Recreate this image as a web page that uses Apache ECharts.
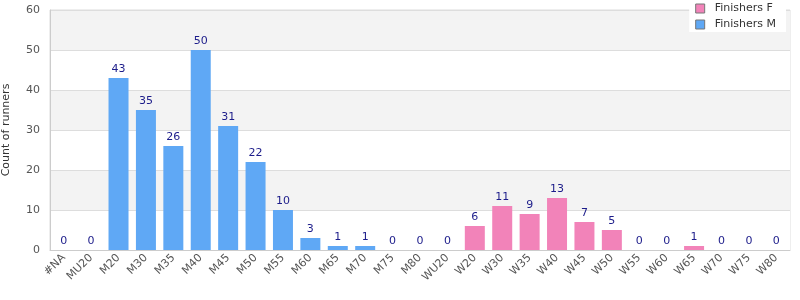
<!DOCTYPE html>
<html>
<head>
<meta charset="utf-8">
<script src="https://cdn.jsdelivr.net/npm/echarts@6/dist/echarts.min.js"></script>
<style>
  html, body { margin: 0; padding: 0; background: #fff; }
</style>
</head>
<body>
<div id="main" style="width: 800px; height: 300px;"></div>
<script>
  // age groups on the x axis
  const categories = ['#NA', 'MU20', 'M20', 'M30', 'M35', 'M40', 'M45', 'M50', 'M55', 'M60', 'M65', 'M70', 'M75', 'M80',
    'WU20', 'W20', 'W30', 'W35', 'W40', 'W45', 'W50', 'W55', 'W60', 'W65', 'W70', 'W75', 'W80'];
  // finishers per group, null where the group belongs to the other series
  const finishersM = [0, 0, 43, 35, 26, 50, 31, 22, 10, 3, 1, 1, 0, 0,
    null, null, null, null, null, null, null, null, null, null, null, null, null];
  const finishersF = [null, null, null, null, null, null, null, null, null, null, null, null, null, null,
    0, 6, 11, 9, 13, 7, 5, 0, 0, 1, 0, 0, 0];

  const font = 'DejaVu Sans, Verdana, sans-serif';
  let myChart = echarts.init(document.getElementById('main'));

  const valueLabel = {
    show: true,
    position: 'top',
    color: '#1c1c8a',
    fontFamily: font,
    fontSize: 11,
    distance: 3
  };

  myChart.setOption({
    animation: false,
    textStyle: { fontFamily: font },
    grid: {
      left: 50, right: 10, top: 10, bottom: 50,
      outerBoundsMode: 'none',
      containLabel: false,
      show: true,
      borderColor: '#dddddd',
      borderWidth: 1
    },
    legend: {
      data: ['Finishers F', 'Finishers M'],
      orient: 'vertical',
      right: 14,
      top: 1,
      backgroundColor: '#fff',
      padding: [2, 10, 2, 6],
      itemGap: 5,
      itemWidth: 9,
      itemHeight: 9,
      icon: 'rect',
      itemStyle: { borderColor: '#777', borderWidth: 1 },
      textStyle: { fontFamily: font, fontSize: 11, color: '#333', padding: [0, 0, 0, 5] }
    },
    xAxis: {
      type: 'category',
      data: categories,
      axisLine: { lineStyle: { color: '#cccccc' } },
      axisTick: { show: false },
      axisLabel: {
        interval: 0,
        rotate: 45,
        color: '#555',
        fontFamily: font,
        fontSize: 11,
        margin: 6
      }
    },
    yAxis: {
      type: 'value',
      min: 0,
      max: 60,
      interval: 10,
      name: 'Count of runners',
      nameLocation: 'middle',
      nameGap: 38,
      nameTextStyle: { color: '#333', fontFamily: font, fontSize: 11 },
      axisLine: { show: true, lineStyle: { color: '#cccccc' } },
      axisTick: { show: false },
      axisLabel: { color: '#555', fontFamily: font, fontSize: 11, margin: 10 },
      splitLine: { lineStyle: { color: '#dddddd' } },
      splitArea: { show: true, areaStyle: { color: ['#ffffff', '#f3f3f3'] } }
    },
    series: [
      {
        name: 'Finishers F',
        type: 'bar',
        stack: 'all',
        data: finishersF,
        barWidth: 20,
        itemStyle: { color: '#f283b9' },
        label: valueLabel
      },
      {
        name: 'Finishers M',
        type: 'bar',
        stack: 'all',
        data: finishersM,
        barWidth: 20,
        itemStyle: { color: '#5fa8f5' },
        label: valueLabel
      }
    ]
  });
</script>
</body>
</html>
